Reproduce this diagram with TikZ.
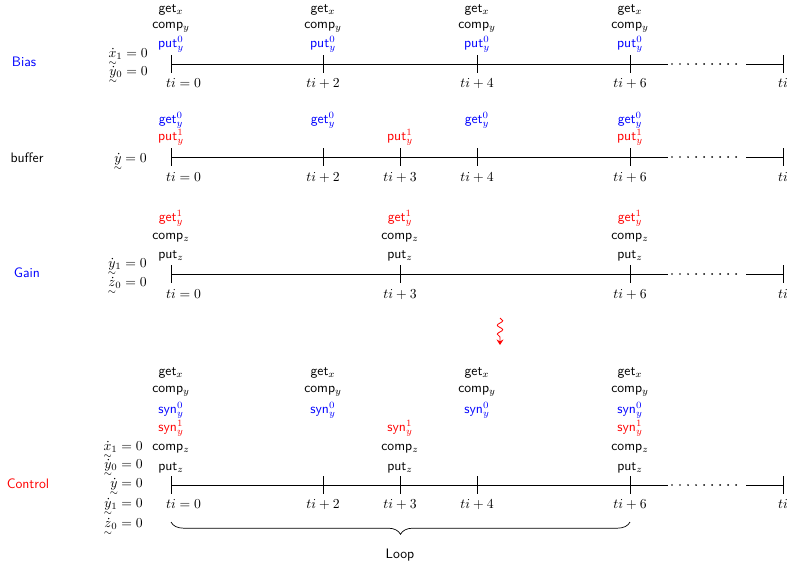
\documentclass[tikz,border=0pt]{standalone}
\usepackage{amsmath}
\usetikzlibrary{decorations.pathreplacing,decorations.pathmorphing,arrows.meta}
\newcommand{\utd}[1]{\smash[b]{\ooalign{$\dot{#1}$\cr\hidewidth\raisebox{-6pt}{$\scriptstyle\sim$}\hidewidth\cr}}}
\newcommand{\tiq}[1]{$ti$\rlap{$\;#1$}}
\begin{document}
\begin{tikzpicture}[x=0.73pt,y=-0.73pt,
  lab/.style={font=\sffamily, anchor=base, inner sep=0pt},
  blab/.style={lab, text=blue},
  rlab/.style={lab, text=red},
  til/.style={anchor=base, inner sep=0pt},
  eq/.style={anchor=base east, inner sep=0pt},
  rowname/.style={font=\sffamily, anchor=base, inner sep=0pt},
  axis/.style={line width=0.5pt},
  dotsline/.style={line width=1.4pt, dash pattern=on 0pt off 5.85pt, line cap=round}]
\useasboundingbox (0,0) rectangle (787,569);

% ---------- timelines ----------
\foreach \y/\ticks in {64/{171,323,477,630,783},157/{171,323,400,477,630,783},274/{171,400,630,783},485/{171,323,400,477,630,783}}{
  \draw[axis] (171,\y) -- (668,\y);
  \draw[dotsline] (672,\y) -- (744,\y);
  \draw[axis] (746,\y) -- (783,\y);
  \foreach \x in \ticks { \draw[axis] (\x,\y-9) -- (\x,\y+9); }
}

% ---------- Bias ----------
\node[rowname, text=blue] (nbias) at (24,66) {Bias};
\node[eq] (bx1) at (148,57) {$\utd{x}_1 = 0$};
\node[eq] (by0) at (148,75) {$\utd{y}_0 = 0$};
\node[til] (bt1) at (171,87) {\tiq{=0}};
\foreach \x/\t [count=\i] in {323/+2,477/+4,630/+6}{
  \node[til] (bt\i x) at (\x,87) {$ti\t$};
}
\foreach \x [count=\i] in {171,323,477,630}{
  \node[lab] (bg\i) at (\x,12) {get$_x$};
  \node[lab] (bc\i) at (\x,28) {comp$_y$};
  \node[blab] (bp\i) at (\x,47) {put$^0_y$};
}
\node[til] (bte) at (783,87) {$ti$};

% ---------- buffer ----------
\node[rowname] (nbuf) at (27,162) {buffer};
\node[eq] (fy) at (147,162) {$\utd{y} = 0$};
\node[til] (ft1) at (171,181) {\tiq{=0}};
\foreach \x/\t [count=\i] in {323/+2,400/+3,477/+4,630/+6}{
  \node[til] (ft\i x) at (\x,181) {$ti\t$};
}
\node[til] (fte) at (783,181) {$ti$};
\foreach \x [count=\i] in {171,323,477,630}{
  \node[blab] (fg\i) at (\x,123) {get$^0_y$};
}
\foreach \x [count=\i] in {171,400,630}{
  \node[rlab] (fp\i) at (\x,140) {put$^1_y$};
}

% ---------- Gain ----------
\node[rowname, text=blue] (ngain) at (27,277) {Gain};
\node[eq] (gy1) at (147,267) {$\utd{y}_1 = 0$};
\node[eq] (gz0) at (147,286) {$\utd{z}_0 = 0$};
\node[til] (gt1) at (171,298) {\tiq{=0}};
\foreach \x/\t [count=\i] in {400/+3,630/+6}{
  \node[til] (gt\i x) at (\x,298) {$ti\t$};
}
\foreach \x [count=\i] in {171,400,630}{
  \node[rlab] (gg\i) at (\x,221) {get$^1_y$};
  \node[lab] (gc\i) at (\x,239) {comp$_z$};
  \node[lab] (gp\i) at (\x,258) {put$_z$};
}
\node[til] (gte) at (783,298) {$ti$};

% ---------- squiggle ----------
\coordinate (sqa) at (500,318);
\coordinate (sqb) at (500,345);
\draw[red, line width=0.6pt, -{Stealth[length=4pt,width=5pt]},
  decorate, decoration={snake, amplitude=2pt, segment length=6.5pt, post length=3pt}] (sqa) -- (sqb);

% ---------- Control ----------
\node[rowname, text=red] (nctrl) at (28,488) {Control};
\node[eq] (cx1) at (143,450) {$\utd{x}_1 = 0$};
\node[eq] (cy0) at (143,468) {$\utd{y}_0 = 0$};
\node[eq] (cy)  at (143,487) {$\utd{y} = 0$};
\node[eq] (cy1) at (143,507) {$\utd{y}_1 = 0$};
\node[eq] (cz0) at (143,527) {$\utd{z}_0 = 0$};
\node[til] (ct1) at (171,508) {\tiq{=0}};
\foreach \x/\t [count=\i] in {323/+2,400/+3,477/+4,630/+6}{
  \node[til] (ct\i x) at (\x,508) {$ti\t$};
}
\node[til] (cte) at (783,508) {$ti$};
\foreach \x [count=\i] in {171,323,477,630}{
  \node[lab] (cg\i) at (\x,375) {get$_x$};
  \node[lab] (cc\i) at (\x,392) {comp$_y$};
  \node[blab] (cs\i) at (\x,413) {syn$^0_y$};
}
\foreach \x [count=\i] in {171,400,630}{
  \node[rlab] (cr\i) at (\x,431) {syn$^1_y$};
  \node[lab] (cz\i) at (\x,450) {comp$_z$};
  \node[lab] (cp\i) at (\x,470) {put$_z$};
}

% ---------- brace ----------
\coordinate (bra) at (171,522);
\coordinate (brb) at (630,522);
\draw[line width=0.5pt, decorate, decoration={brace, mirror, amplitude=9pt}] (bra) -- (brb);
\node[lab] (loop) at (400,558) {Loop};
\end{tikzpicture}
\end{document}
